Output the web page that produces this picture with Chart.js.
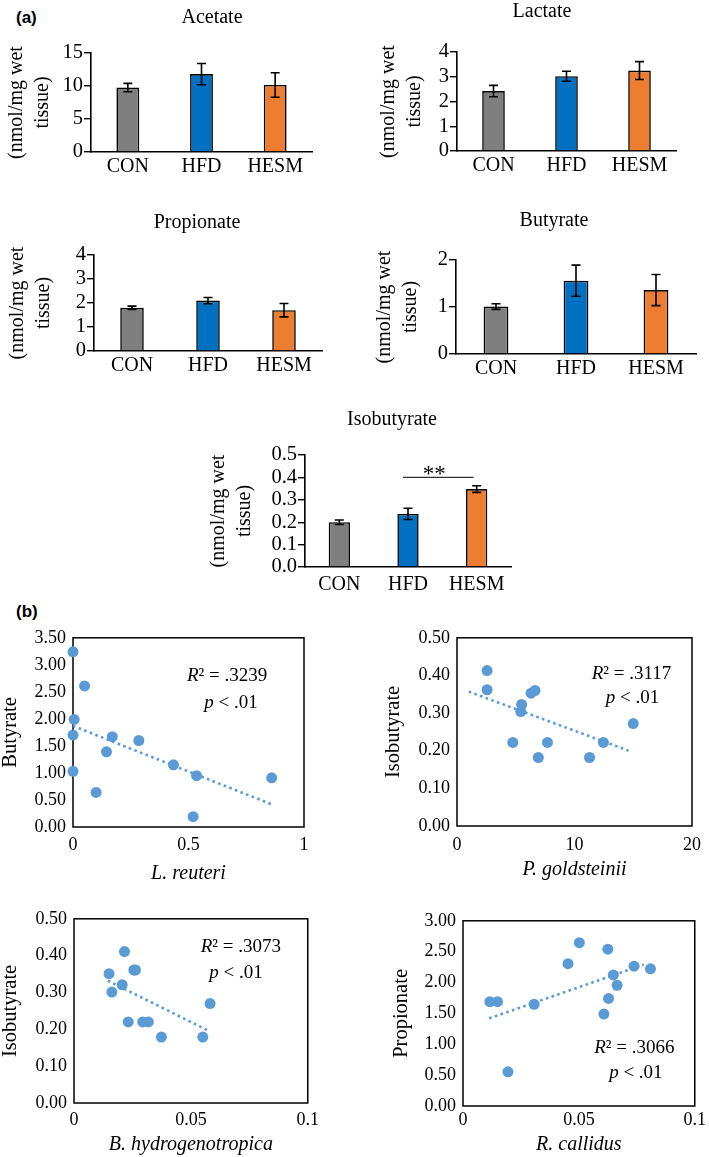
<!DOCTYPE html>
<html><head><meta charset="utf-8">
<script src="https://cdn.jsdelivr.net/npm/chart.js@4.4.1/dist/chart.umd.min.js"></script>
<style>
html,body{margin:0;padding:0;background:#fff;width:709px;height:1157px;overflow:hidden;position:relative}
canvas{position:absolute}
.plabel{position:absolute;font-family:"Liberation Sans",Arial,sans-serif;font-weight:bold;font-size:17px;line-height:1}
</style></head><body>
<div class="plabel" style="left:16px;top:9px">(a)</div>
<div class="plabel" style="left:16px;top:603px">(b)</div>
<canvas id="acetate"></canvas>
<canvas id="lactate"></canvas>
<canvas id="propionate"></canvas>
<canvas id="butyrate"></canvas>
<canvas id="isobutyrate"></canvas>
<canvas id="reuteri"></canvas>
<canvas id="goldsteinii"></canvas>
<canvas id="hydro"></canvas>
<canvas id="callidus"></canvas>
<script>
// ---------- data ----------
const groups = ['CON', 'HFD', 'HESM'];
const groupColors = ['#7f7f7f', '#0070c0', '#ed7d31'];

const acetateMean = [9.77, 11.8, 10.15];
const acetateErr = [0.63, 1.6, 1.85];
const acetateTicks = [0, 5, 10, 15];

const lactateMean = [2.42, 3.02, 3.25];
const lactateErr = [0.23, 0.2, 0.36];
const lactateTicks = [0, 1, 2, 3, 4];

const propionateMean = [1.8, 2.1, 1.7];
const propionateErr = [0.07, 0.13, 0.28];
const propionateTicks = [0, 1, 2, 3, 4];

const butyrateMean = [1.01, 1.56, 1.36];
const butyrateErr = [0.06, 0.33, 0.33];
const butyrateTicks = [0, 1, 2];

const isobutyrateMean = [0.20, 0.237, 0.348];
const isobutyrateErr = [0.01, 0.025, 0.015];
const isobutyrateTicks = [0, 0.1, 0.2, 0.3, 0.4, 0.5];
const isobutyrateSig = { from: 'HFD', to: 'HESM', y: 0.40, label: '**' };

const yUnitTitle = ['(nmol/mg wet', 'tissue)'];

const reuteriX = [0, 0.05, 0.005, 0, 0, 0.17, 0.285, 0.145, 0.10, 0.435, 0.535, 0.86, 0.52];
const reuteriButyrate = [3.24, 2.61, 1.99, 1.70, 1.03, 1.67, 1.60, 1.39, 0.64, 1.15, 0.95, 0.91, 0.19];
const reuteriTrendX = [0, 0.86];
const reuteriTrendY = [1.87, 0.42];
const reuteriXTicks = [0, 0.5, 1];
const butyrateYTicks = [0, 0.5, 1, 1.5, 2, 2.5, 3, 3.5];

const goldsteiniiX = [2.56, 2.56, 6.64, 6.3, 5.5, 5.43, 4.75, 7.7, 6.92, 11.28, 12.46, 15.0];
const goldsteiniiIso = [0.413, 0.362, 0.36, 0.353, 0.323, 0.304, 0.222, 0.222, 0.182, 0.182, 0.222, 0.272];
const goldsteiniiTrendX = [1.0, 14.6];
const goldsteiniiTrendY = [0.357, 0.20];
const goldsteiniiXTicks = [0, 10, 20];
const isoYTicks = [0, 0.1, 0.2, 0.3, 0.4, 0.5];

const hydroX = [0.0216, 0.015, 0.0256, 0.0263, 0.0206, 0.0162, 0.0232, 0.0294, 0.0318, 0.0374, 0.0551, 0.0582];
const hydroIso = [0.411, 0.351, 0.361, 0.361, 0.321, 0.301, 0.22, 0.22, 0.22, 0.179, 0.179, 0.27];
const hydroTrendX = [0.0145, 0.0569];
const hydroTrendY = [0.332, 0.198];
const smallXTicks = [0, 0.05, 0.1];

const callidusX = [0.0502, 0.0625, 0.0453, 0.0738, 0.0809, 0.0649, 0.0665, 0.0628, 0.0608, 0.0307, 0.0116, 0.0149, 0.0194];
const callidusProp = [2.645, 2.54, 2.306, 2.264, 2.222, 2.123, 1.956, 1.742, 1.49, 1.648, 1.69, 1.69, 0.553];
const callidusTrendX = [0.0113, 0.078];
const callidusTrendY = [1.42, 2.29];
const propYTicks = [0, 0.5, 1, 1.5, 2, 2.5, 3];

// ---------- setup ----------
const FAM = "'Liberation Serif','Times New Roman',serif";
Chart.defaults.font.family = FAM;
Chart.defaults.color = '#000';

function place(id, L, T, W, H) {
  const c = document.getElementById(id);
  c.width = W; c.height = H;
  c.style.left = L + 'px'; c.style.top = T + 'px';
  c.style.width = W + 'px'; c.style.height = H + 'px';
  return c;
}

function errorBarsPlugin(errors) {
  return { id: 'errorBars', afterDatasetsDraw(chart) {
    const meta = chart.getDatasetMeta(0), ys = chart.scales.y, vals = chart.data.datasets[0].data;
    const ctx = chart.ctx;
    ctx.save(); ctx.strokeStyle = '#000'; ctx.lineWidth = 1.6;
    meta.data.forEach((bar, i) => {
      const yt = ys.getPixelForValue(vals[i] + errors[i]);
      const yb = ys.getPixelForValue(vals[i] - errors[i]);
      const x = bar.x, cw = 4.5;
      ctx.beginPath();
      ctx.moveTo(x, yt); ctx.lineTo(x, yb);
      ctx.moveTo(x - cw, yt); ctx.lineTo(x + cw, yt);
      ctx.moveTo(x - cw, yb); ctx.lineTo(x + cw, yb);
      ctx.stroke();
    });
    ctx.restore();
  } };
}

function sigPlugin(sig) {
  return { id: 'sig', afterDatasetsDraw(chart) {
    const xs = chart.scales.x, ys = chart.scales.y, ctx = chart.ctx;
    const x1 = xs.getPixelForValue(groups.indexOf(sig.from));
    const x2 = xs.getPixelForValue(groups.indexOf(sig.to));
    const y = ys.getPixelForValue(sig.y);
    ctx.save();
    ctx.strokeStyle = '#333'; ctx.lineWidth = 1.3;
    ctx.beginPath(); ctx.moveTo(x1 - 5, y); ctx.lineTo(x2 - 3, y); ctx.stroke();
    ctx.font = '23px ' + FAM; ctx.textAlign = 'center'; ctx.textBaseline = 'alphabetic'; ctx.fillStyle = '#000';
    ctx.fillText(sig.label, (x1 + x2) / 2 - 8, y + 4);
    ctx.restore();
  } };
}

const framePlugin = { id: 'frame', beforeDatasetsDraw(chart) {
  const ca = chart.chartArea, ctx = chart.ctx;
  ctx.save(); ctx.strokeStyle = '#000'; ctx.lineWidth = 1.5;
  ctx.strokeRect(ca.left, ca.top, ca.right - ca.left, ca.bottom - ca.top);
  ctx.restore();
} };

function annotPlugin(items) {
  return { id: 'annot', afterDatasetsDraw(chart) {
    const ctx = chart.ctx, xs = chart.scales.x, ys = chart.scales.y;
    items.forEach(it => {
      const px = xs.getPixelForValue(it.x), py = ys.getPixelForValue(it.y);
      ctx.save(); ctx.fillStyle = '#000'; ctx.textBaseline = 'middle'; ctx.textAlign = 'left';
      const fonts = it.parts.map(p => (p.italic ? 'italic ' : '') + '19px ' + FAM);
      const widths = it.parts.map((p, i) => { ctx.font = fonts[i]; return ctx.measureText(p.t).width; });
      let x = px - widths.reduce((a, b) => a + b, 0) / 2;
      it.parts.forEach((p, i) => { ctx.font = fonts[i]; ctx.fillText(p.t, x, py); x += widths[i]; });
      ctx.restore();
    });
  } };
}

function barChart(id, c) {
  const cv = place(id, c.L, c.T, c.W, c.H);
  return new Chart(cv, {
    type: 'bar',
    data: { labels: groups, datasets: [{
      data: c.values, backgroundColor: groupColors, borderColor: '#000', borderWidth: 1.6,
      barPercentage: 0.31, categoryPercentage: 1
    }] },
    options: {
      responsive: false, animation: false, devicePixelRatio: 1,
      layout: { padding: 0 },
      plugins: {
        legend: { display: false }, tooltip: { enabled: false },
        title: { display: true, text: c.title, color: '#000', font: { size: 20, weight: 'normal', lineHeight: 1.2 },
                 padding: { top: c.tpt, bottom: c.tpb } }
      },
      scales: {
        x: {
          grid: { display: false, drawTicks: false },
          border: { display: true, color: '#000', width: 1.6 },
          ticks: { color: '#000', font: { size: 20 }, padding: c.xp, autoSkip: false, maxRotation: 0 },
          afterFit: s => { s.height = c.xh; }
        },
        y: {
          min: c.ticks[0], max: c.ticks[c.ticks.length - 1],
          afterBuildTicks: s => { s.ticks = c.ticks.map(v => ({ value: v })); },
          grid: { display: true, drawOnChartArea: false, drawTicks: true, tickLength: 7, color: '#000', lineWidth: 1.4 },
          border: { display: true, color: '#000', width: 1.6 },
          ticks: { color: '#000', font: { size: 20.5 }, padding: 1, autoSkip: false, callback: v => c.fmt(v) },
          title: { display: true, text: yUnitTitle, color: '#000', font: { size: 20, lineHeight: 1.3 },
                   padding: { top: c.ytp, bottom: 0 } },
          afterFit: s => { s.width = c.yw; }
        },
        pad: {
          type: 'linear', position: 'right', display: true,
          grid: { display: false }, border: { display: false }, ticks: { display: false },
          afterFit: s => { s.width = c.padR; }
        }
      }
    },
    plugins: [errorBarsPlugin(c.errors)].concat(c.sig ? [sigPlugin(c.sig)] : [])
  });
}

const zip = (xs, ys) => xs.map((x, i) => ({ x: x, y: ys[i] }));

function scatterChart(id, c) {
  const cv = place(id, c.L, c.T, c.W, c.H);
  return new Chart(cv, {
    type: 'scatter',
    data: { datasets: [
      { type: 'line', data: zip(c.tx, c.ty), borderColor: '#5b9bd5', borderWidth: 2.6, borderDash: [2.6, 3.4],
        pointRadius: 0, fill: false, clip: false },
      { data: zip(c.xs, c.ys), backgroundColor: '#5b9bd5', borderWidth: 0, pointRadius: 5.5, clip: false }
    ] },
    options: {
      responsive: false, animation: false, devicePixelRatio: 1,
      layout: { padding: { top: 11, right: c.padR, left: 0, bottom: 0 } },
      plugins: { legend: { display: false }, tooltip: { enabled: false } },
      scales: {
        x: {
          type: 'linear', min: c.xTicks[0], max: c.xTicks[c.xTicks.length - 1],
          afterBuildTicks: s => { s.ticks = c.xTicks.map(v => ({ value: v })); },
          grid: { display: false, drawTicks: false }, border: { display: false },
          ticks: { color: '#000', font: { size: 18 }, padding: c.xp, autoSkip: false, maxRotation: 0, callback: v => String(v) },
          title: { display: true, text: c.xTitle, color: '#000', font: { size: 20, style: 'italic', lineHeight: 1.2 },
                   padding: { top: 0, bottom: 0 } },
          afterFit: s => { s.height = c.xh; }
        },
        y: {
          type: 'linear', min: c.yTicks[0], max: c.yTicks[c.yTicks.length - 1],
          afterBuildTicks: s => { s.ticks = c.yTicks.map(v => ({ value: v })); },
          grid: { display: false, drawTicks: false }, border: { display: false },
          ticks: { color: '#000', font: { size: 18 }, padding: 7, autoSkip: false, callback: v => v.toFixed(2) },
          title: { display: true, text: c.yTitle, color: '#000', font: { size: 20.5, lineHeight: 1.0 },
                   padding: { top: 0, bottom: 0 } },
          afterFit: s => { s.width = c.yw; }
        }
      }
    },
    plugins: [framePlugin, annotPlugin(c.annot)]
  });
}

// ---------- bar charts ----------
barChart('acetate', { L: 2, T: 0, W: 420, H: 180, yw: 89, padR: 110, tpt: 6, tpb: 23, xh: 28, xp: 3, ytp: 2,
  title: 'Acetate', values: acetateMean, errors: acetateErr, ticks: acetateTicks, fmt: v => String(v) });
barChart('lactate', { L: 376, T: 0, W: 332, H: 179, yw: 81, padR: 32, tpt: 0, tpb: 28, xh: 28, xp: 3, ytp: 0,
  title: 'Lactate', values: lactateMean, errors: lactateErr, ticks: lactateTicks, fmt: v => String(v) });
barChart('propionate', { L: 2, T: 206, W: 390, H: 173, yw: 92, padR: 70, tpt: 5, tpb: 20, xh: 28, xp: 3, ytp: 3,
  title: 'Propionate', values: propionateMean, errors: propionateErr, ticks: propionateTicks, fmt: v => String(v) });
barChart('butyrate', { L: 372, T: 204, W: 364, H: 178, yw: 84, padR: 40, tpt: 5, tpb: 27, xh: 28, xp: 3, ytp: 0,
  title: 'Butyrate', values: butyrateMean, errors: butyrateErr, ticks: butyrateTicks, fmt: v => String(v) });
barChart('isobutyrate', { L: 206, T: 404, W: 372, H: 193, yw: 99, padR: 67, tpt: 4, tpb: 23, xh: 30, xp: 6, ytp: 0,
  title: 'Isobutyrate', values: isobutyrateMean, errors: isobutyrateErr, ticks: isobutyrateTicks,
  fmt: v => v.toFixed(1), sig: isobutyrateSig });

// ---------- scatter charts ----------
scatterChart('reuteri', { L: 0, T: 620, W: 319, H: 266, yw: 73, xh: 59, padR: 15, xp: 7,
  xs: reuteriX, ys: reuteriButyrate, tx: reuteriTrendX, ty: reuteriTrendY,
  xTicks: reuteriXTicks, yTicks: butyrateYTicks, xTitle: 'L. reuteri', yTitle: 'Butyrate',
  annot: [
    { x: 0.667, y: 2.79, parts: [{ t: 'R', italic: true }, { t: '² = .3239' }] },
    { x: 0.684, y: 2.30, parts: [{ t: 'p', italic: true }, { t: ' < .01' }] }
  ] });
scatterChart('goldsteinii', { L: 383, T: 620, W: 326, H: 262, yw: 74, xh: 56, padR: 15, xp: 8,
  xs: goldsteiniiX, ys: goldsteiniiIso, tx: goldsteiniiTrendX, ty: goldsteiniiTrendY,
  xTicks: goldsteiniiXTicks, yTicks: isoYTicks, xTitle: 'P. goldsteinii', yTitle: 'Isobutyrate',
  annot: [
    { x: 14.85, y: 0.405, parts: [{ t: 'R', italic: true }, { t: '² = .3117' }] },
    { x: 14.94, y: 0.341, parts: [{ t: 'p', italic: true }, { t: ' < .01' }] }
  ] });
scatterChart('hydro', { L: 0, T: 901, W: 325, H: 256, yw: 74, xh: 54, padR: 15, xp: 6,
  xs: hydroX, ys: hydroIso, tx: hydroTrendX, ty: hydroTrendY,
  xTicks: smallXTicks, yTicks: isoYTicks, xTitle: 'B. hydrogenotropica', yTitle: 'Isobutyrate',
  annot: [
    { x: 0.0714, y: 0.423, parts: [{ t: 'R', italic: true }, { t: '² = .3073' }] },
    { x: 0.0693, y: 0.352, parts: [{ t: 'p', italic: true }, { t: ' < .01' }] }
  ] });
scatterChart('callidus', { L: 391, T: 903, W: 318, H: 254, yw: 72, xh: 51, padR: 10, xp: 3,
  xs: callidusX, ys: callidusProp, tx: callidusTrendX, ty: callidusTrendY,
  xTicks: smallXTicks, yTicks: propYTicks, xTitle: 'R. callidus', yTitle: 'Propionate',
  annot: [
    { x: 0.0739, y: 0.94, parts: [{ t: 'R', italic: true }, { t: '² = .3066' }] },
    { x: 0.0746, y: 0.53, parts: [{ t: 'p', italic: true }, { t: ' < .01' }] }
  ] });
</script>
</body></html>
